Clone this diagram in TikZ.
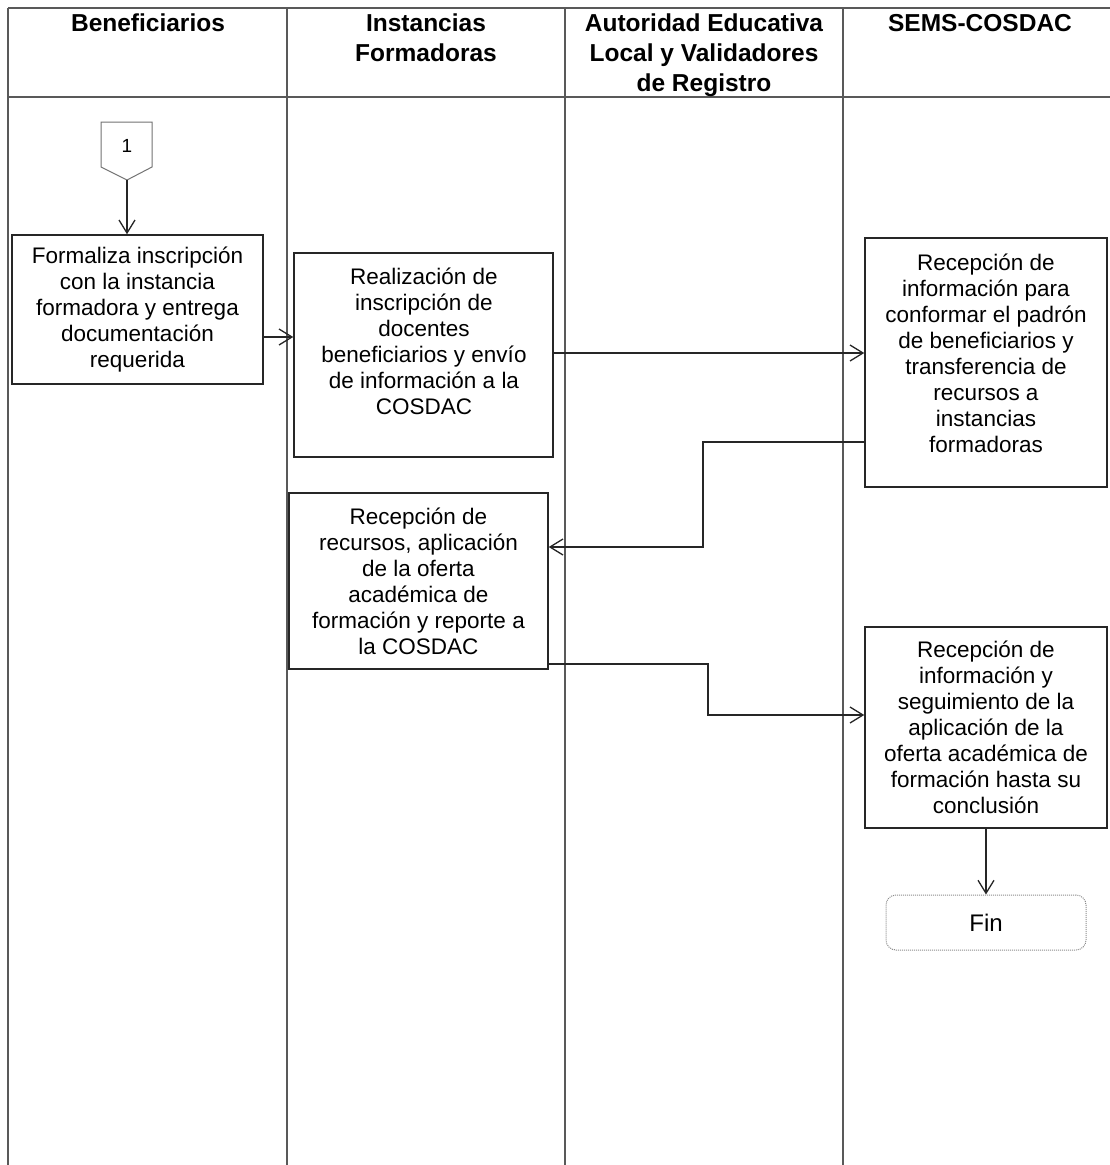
\documentclass[tikz,border=0pt]{standalone}
\usepackage{fontspec}
\setmainfont{Liberation Sans}
\usetikzlibrary{arrows.meta,positioning,calc}
\begin{document}
\begin{tikzpicture}[x=1pt,y=-1pt,
  lane/.style={draw=black!65, line width=2pt},
  box/.style={draw=black!85, line width=1.5pt, rectangle, inner sep=0pt, font=\fontsize{22.5}{26}\selectfont, align=center},
  txt/.style={inner sep=0pt, font=\fontsize{22.5}{26}\selectfont, align=center},
  head/.style={inner sep=0pt, font=\fontsize{24.5}{30}\selectfont\bfseries, align=center, anchor=north},
  arr/.style={draw=black!85, line width=1.3pt, -{Straight Barb[length=13pt,width=16pt,line width=1.3pt]}},
  finbox/.style={draw=black!45, densely dotted, line width=1pt, rounded corners=10pt, rectangle, inner sep=0pt, font=\fontsize{24}{26}\selectfont}
]
\useasboundingbox (0,0) rectangle (1110,1165);
\fill[white] (0,0) rectangle (1110,1165);
% swimlane frame
\draw[lane] (8,8) -- (1110,8);
\draw[lane] (8,97) -- (1110,97);
\draw[lane] (8,8) -- (8,1165);
\draw[lane] (287,8) -- (287,1165);
\draw[lane] (565,8) -- (565,1165);
\draw[lane] (843,8) -- (843,1165);
% headers
\node[head] (h1) at (148,14) {Beneficiarios};
\node[head] (h2) at (426,14) {Instancias\\Formadoras};
\node[head] (h3) at (704,14) {Autoridad Educativa\\Local y Validadores\\de Registro};
\node[head] (h4) at (980,14) {SEMS-COSDAC};
% off-page connector 1
\draw[draw=black!55, line width=1pt] (101,122) -- (152,122) -- (152,167) -- (127,180) -- (101,167) -- cycle;
\coordinate (c1tip) at (127,180);
\node[txt, font=\fontsize{19}{20}\selectfont] (c1) at (127,146) {1};
% boxes
\node[box, minimum width=251pt, minimum height=149pt] (A) at (137.5,309.5)
  {Formaliza inscripción\\con la instancia\\formadora y entrega\\documentación\\requerida};
\node[box, minimum width=259pt, minimum height=204pt] (B) at (423.5,355) {};
\node[txt] (Bt) at (424,341) {Realización de\\inscripción de\\docentes\\beneficiarios y envío\\de información a la\\COSDAC};
\node[box, minimum width=242pt, minimum height=249pt] (C) at (986,362.5) {};
\node[txt] (Ct) at (986,353) {Recepción de\\información para\\conformar el padrón\\de beneficiarios y\\transferencia de\\recursos a\\instancias\\formadoras};
\node[box, minimum width=259pt, minimum height=176pt] (D) at (418.5,581)
  {Recepción de\\recursos, aplicación\\de la oferta\\académica de\\formación y reporte a\\la COSDAC};
\node[box, minimum width=242pt, minimum height=201pt] (E) at (986,727.5)
  {Recepción de\\información y\\seguimiento de la\\aplicación de la\\oferta académica de\\formación hasta su\\conclusión};
\node[finbox, minimum width=200pt, minimum height=55pt] (F) at (986,922.5) {Fin};
% connectors
\draw[arr] (c1tip) -- (c1tip |- A.north);
\draw[arr] (A.east |- 0,337) -- (B.west |- 0,337);
\draw[arr] (B.east |- 0,353) -- (C.west |- 0,353);
\draw[arr] (C.west |- 0,442) -- (703,442) -- (703,547) -- (D.east |- 0,547);
\draw[arr] (D.east |- 0,664) -- (708,664) -- (708,715) -- (E.west |- 0,715);
\draw[arr] (E.south) -- (F.north);
\end{tikzpicture}
\end{document}
